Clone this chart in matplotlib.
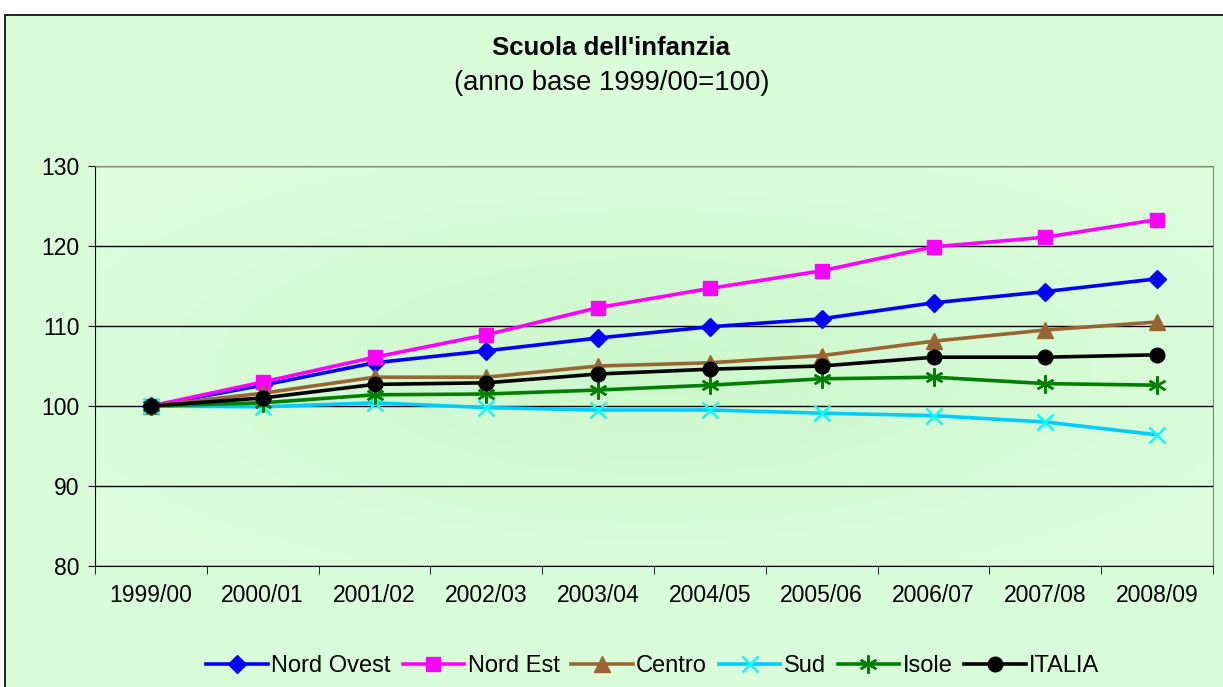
import numpy as np
import matplotlib
matplotlib.use("Agg")
import matplotlib.pyplot as plt
from matplotlib.patches import Rectangle

plt.rcParams['font.family'] = ['Liberation Sans', 'DejaVu Sans']

# ____________________________________________________________ data
anni = ["1999/00", "2000/01", "2001/02", "2002/03", "2003/04",
        "2004/05", "2005/06", "2006/07", "2007/08", "2008/09"]
nord_ovest = [100, 102.6, 105.4, 106.9, 108.5, 109.9, 110.9, 112.9, 114.3, 115.9]
nord_est = [100, 103.0, 106.1, 108.9, 112.3, 114.7, 116.9, 119.9, 121.1, 123.3]
centro = [100, 101.6, 103.6, 103.6, 105.0, 105.4, 106.3, 108.1, 109.5, 110.5]
sud = [100, 99.9, 100.4, 99.8, 99.5, 99.5, 99.1, 98.8, 98.0, 96.4]
isole = [100, 100.4, 101.4, 101.5, 102.0, 102.6, 103.4, 103.6, 102.8, 102.6]
italia = [100, 101.0, 102.7, 102.9, 104.0, 104.6, 105.0, 106.1, 106.1, 106.4]
y_ticks = [80, 90, 100, 110, 120, 130]

fig = plt.figure(figsize=(12.23, 6.87), dpi=100)
fig.patch.set_facecolor("white")

# chart area frame (light green box, black border)
W, H = 1223, 687
fig.patches.append(Rectangle((5 / W, -0.01), 1.02, 1 - 15 / H + 0.01,
                             transform=fig.transFigure, facecolor="#DAFDD9",
                             edgecolor="black", linewidth=1.2, zorder=-10))

ax = fig.add_axes([95 / W, 1 - 566 / H, (1213 - 95) / W, (566 - 166) / H])
ax.set_facecolor("none")

# radial-ish gradient like the Excel plot area
gx, gy = np.meshgrid(np.linspace(-1, 1, 200), np.linspace(-1, 1, 120))
r = np.clip(np.sqrt(gx ** 2 + gy ** 2) / 1.2, 0, 1)
c_in = np.array([0.80, 0.97, 0.80])
c_out = np.array([0.86, 0.995, 0.86])
img = c_in[None, None, :] * (1 - r[..., None]) + c_out[None, None, :] * r[..., None]
ax.imshow(img, extent=[0, 1, 0, 1], transform=ax.transAxes, aspect="auto", zorder=0)

x = np.arange(len(anni))
lw = 2.6
ax.plot(x, nord_ovest, color="#0000FF", lw=lw, marker="D", ms=9, label="Nord Ovest", zorder=5)
ax.plot(x, nord_est, color="#FF00FF", lw=lw, marker="s", ms=10, label="Nord Est", zorder=5)
ax.plot(x, centro, color="#996633", lw=lw, marker="^", ms=11, label="Centro", zorder=5)
ax.plot(x, sud, color="#00CCFF", lw=lw, marker="x", ms=11, mew=1.8, mec="#00FFFF",
        label="Sud", zorder=5)
ax.plot(x, isole, color="#008000", lw=lw, marker=(6, 2, 0), ms=13, mew=1.7, label="Isole", zorder=5)
ax.plot(x, italia, color="black", lw=lw, marker="o", ms=10.5, label="ITALIA", zorder=6)

ax.set_xlim(-0.5, len(anni) - 0.5)
ax.set_ylim(80, 130)
ax.set_yticks(y_ticks)
ax.set_yticklabels([str(v) for v in y_ticks], fontsize=16.5)
ax.set_xticks(x)
ax.set_xticklabels(anni, fontsize=16.5)
ax.tick_params(axis="x", length=0, pad=13)
ax.set_xticks(np.arange(-0.5, len(anni), 1), minor=True)
ax.tick_params(axis="x", which="minor", length=6, direction="out", color="black")
ax.tick_params(axis="y", length=5, direction="out", pad=6)
ax.grid(axis="y", color="black", lw=1, zorder=1)
for s in ["top", "right"]:
    ax.spines[s].set_color("#808080")
ax.spines["left"].set_color("black")
ax.spines["bottom"].set_color("black")

fig.text(0.5, 1 - 48 / H, "Scuola dell'infanzia", ha="center", va="center",
         fontsize=18.5, fontweight="bold")
fig.text(0.5, 1 - 83 / H, "(anno base 1999/00=100)", ha="center", va="center", fontsize=19.8)

leg = fig.legend(loc="center", bbox_to_anchor=(653 / W, 1 - 666 / H), ncol=6, frameon=False,
                 fontsize=17, handlelength=2.6, columnspacing=0.5, handletextpad=0.15,
                 borderpad=0)

fig.savefig("out.png", dpi=100, facecolor=fig.get_facecolor())
